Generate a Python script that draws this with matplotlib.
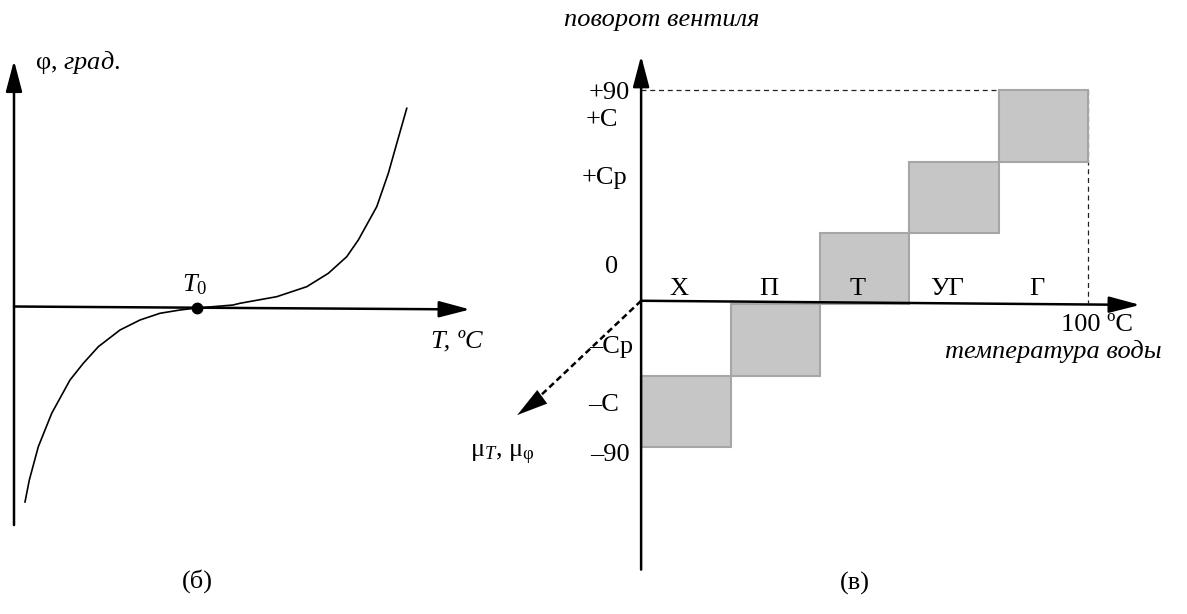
import matplotlib.pyplot as plt
from matplotlib.patches import Rectangle

plt.rcParams["font.family"] = ["Liberation Serif", "DejaVu Serif"]
plt.rcParams["mathtext.fontset"] = "custom"
plt.rcParams["mathtext.rm"] = "Liberation Serif"
plt.rcParams["mathtext.it"] = "Liberation Serif:italic"

# (б) valve angle phi against water temperature T, arbitrary units
curve_T = [0.241, 0.336, 0.533, 0.827, 1.228, 1.520, 1.849, 2.325, 2.763,
           3.202, 3.640, 4.013, 4.80, 4.956, 5.761, 6.419, 6.893, 7.296,
           7.550, 7.954, 8.208, 8.414, 8.612]
curve_phi = [-7.918, -7.020, -5.661, -4.298, -2.939, -2.257, -1.580, -0.898,
             -0.490, -0.216, -0.082, 0.0, 0.12, 0.192, 0.461, 0.869, 1.416,
             2.094, 2.776, 4.135, 5.498, 6.857, 8.151]
T0 = 4.013

# (в) temperature zones and the valve turn band for each
zone_names = ["Х", "П", "Т", "УГ", "Г"]
zone_edges = [0, 20, 40, 60, 80, 100]
turn_lo = [-90, -54, -18, 18, 54]
turn_hi = [-54, -18, 18, 54, 90]
turn_labels = ["+90", "+C", "+Cp", "0", "\u2013Cp", "\u2013C", "\u201390"]
turn_label_pos = [88.8, 75.1, 45.8, 0.9, -39.5, -68.9, -94.1]
turn_label_right = [-2.5, -5.1, -3.1, -5.1, -1.8, -4.9, -2.5]

FS = 19
BOX_FACE = "#c6c6c6"
BOX_EDGE = "#a6a6a6"


def arrow(ax, start, tip, lw=1.8, ms=20, hl=0.95, hw=0.25):
    ax.annotate("", xy=tip, xytext=start,
                arrowprops=dict(arrowstyle=f"-|>,head_length={hl},head_width={hw}",
                                lw=lw, color="k", shrinkA=0, shrinkB=0,
                                mutation_scale=ms))


fig = plt.figure(figsize=(11.87, 6.14), dpi=100)

# left panel
ax1 = fig.add_axes([0, 0, 1, 1])
ax1.set_xlim(-0.307, 25.72)
ax1.set_ylim(-12.49, 12.57)
ax1.axis("off")
ax1.patch.set_alpha(0)

arrow(ax1, (0, -8.86), (0, 10.1))
arrow(ax1, (0, 0.06), (10.0, -0.06))
ax1.plot(curve_T, curve_phi, color="k", lw=1.2, solid_joinstyle="round")
ax1.plot([T0], [0], "o", color="k", ms=7.5, zorder=5)

ax1.text(0.46, 10.0, "φ, $\\mathit{град.}$", fontsize=FS, ha="left", va="center")
ax1.text(T0 - 0.05, 0.95, "$T_0$", fontsize=FS, ha="center", va="center")
ax1.text(9.72, -1.35, "T, ºC", fontsize=FS, style="italic", ha="center", va="center")
ax1.text(T0, -11.15, "(б)", fontsize=FS, ha="center", va="center")

# right panel
ax2 = fig.add_axes([0, 0, 1, 1])
ax2.set_xlim(-143.4, 122.1)
ax2.set_ylim(-174.4, 135.7)
ax2.axis("off")
ax2.patch.set_alpha(0)

ax2.plot([0, zone_edges[-1]], [turn_hi[-1], turn_hi[-1]], color="#222222",
         lw=0.9, dashes=(4, 3), zorder=1)
ax2.plot([zone_edges[-1], zone_edges[-1]], [turn_hi[-1], -17.5], color="#222222",
         lw=0.9, dashes=(4, 3), zorder=1)

for i, name in enumerate(zone_names):
    x0, x1 = zone_edges[i], zone_edges[i + 1]
    ax2.add_patch(Rectangle((x0, turn_lo[i]), x1 - x0, turn_hi[i] - turn_lo[i],
                            facecolor=BOX_FACE, edgecolor=BOX_EDGE, lw=1.5, zorder=2))
    ax2.text((x0 + x1) / 2 - 1.5, -10.4, name, fontsize=FS, ha="center", va="center",
             zorder=4)

arrow(ax2, (0, -152), (0, 107.5))
arrow(ax2, (0, -16.2), (111.6, -18.3))
ax2.plot([0, -25.5], [-16.2, -70.5], color="k", lw=1.8, dashes=(2.5, 1.5))
arrow(ax2, (-22.0, -64.5), (-27.7, -73.9), lw=0.1, ms=20, hl=1.1, hw=0.3)

for lab, pos, xr in zip(turn_labels, turn_label_pos, turn_label_right):
    ax2.text(xr, pos, lab, fontsize=FS, ha="right", va="center")

ax2.text(4.5, 125.5, "поворот вентиля", fontsize=FS, style="italic",
         ha="center", va="center")
ax2.text(102.0, -28.6, "100 ºC", fontsize=FS, ha="center", va="center")
ax2.text(116.5, -42.0, "температура воды", fontsize=FS, style="italic",
         ha="right", va="center")
ax2.text(-31.0, -94.0, "$\\mathrm{μ}_{T}$, $\\mathrm{μ}_{\\mathrm{φ}}$", fontsize=FS,
         ha="center", va="center")
ax2.text(47.9, -159.0, "(в)", fontsize=FS, ha="center", va="center")

fig.savefig("out.png", dpi=100)
